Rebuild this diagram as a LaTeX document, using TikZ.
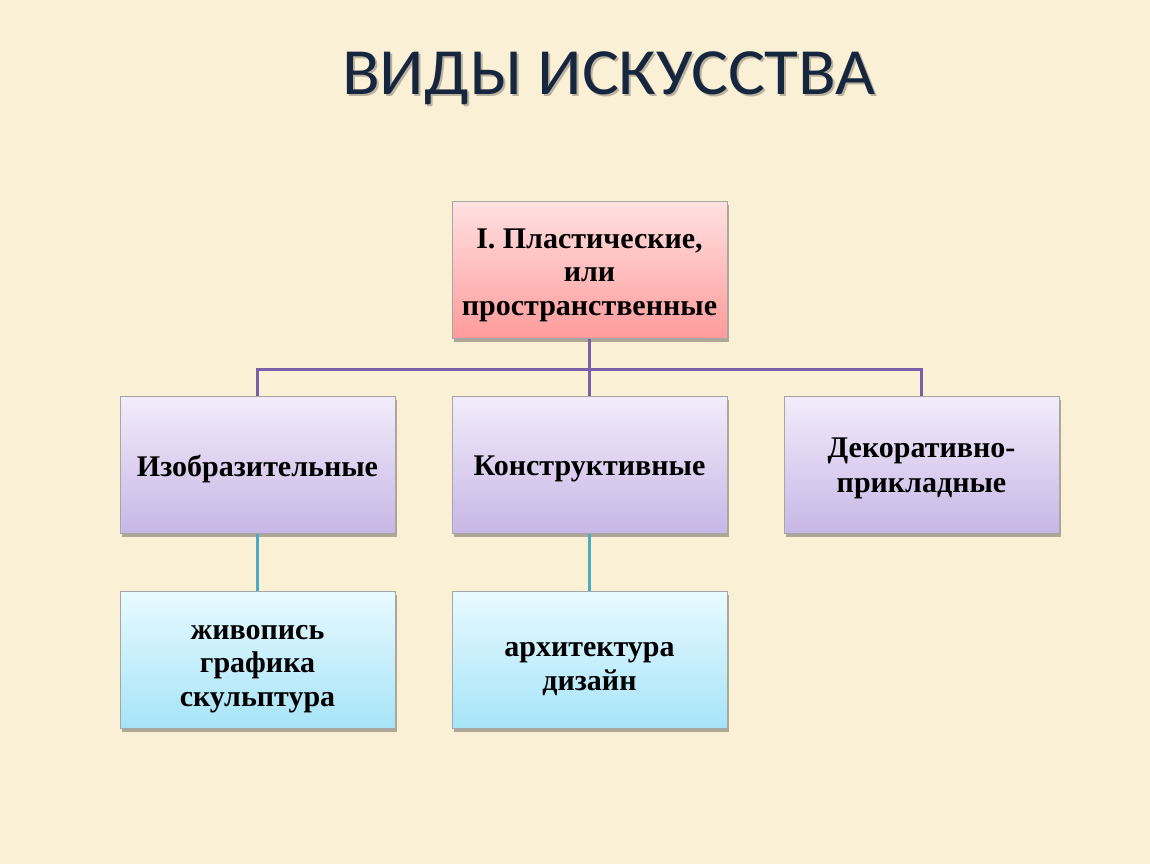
\documentclass[tikz,border=0pt]{standalone}
\usepackage{fontspec}
\setmainfont{Liberation Serif}
\newfontfamily\titlefont{Carlito}
\usetikzlibrary{shadows}
\definecolor{bgcol}{HTML}{FAF0D6}
\definecolor{titlecol}{HTML}{17263F}
\definecolor{plinecol}{HTML}{7B5FA8}
\definecolor{tlinecol}{HTML}{4BACC6}
\tikzset{
  box/.style={draw=black!35, line width=0.6pt, minimum width=275pt, minimum height=137pt,
    inner sep=0pt, shading=axis, shading angle=0,
    drop shadow={shadow xshift=2pt, shadow yshift=-3pt, opacity=0.3, fill=black}},
  boxtext/.style={align=center, inner sep=0pt, font=\bfseries\fontsize{30}{33.5}\selectfont},
  redbox/.style={box, top color=red!12!white, bottom color={rgb,255:red,255;green,155;blue,155}},
  purbox/.style={box, top color={rgb,255:red,242;green,236;blue,250}, bottom color={rgb,255:red,200;green,182;blue,230}},
  bluebox/.style={box, top color={rgb,255:red,232;green,250;blue,255}, bottom color={rgb,255:red,166;green,228;blue,248}},
  pline/.style={draw=plinecol, line width=3pt},
  tline/.style={draw=tlinecol, line width=3pt},
  titletext/.style={font=\titlefont\fontsize{66}{70}\selectfont, anchor=base, inner sep=0pt}
}
\begin{document}
\begin{tikzpicture}[x=1pt,y=-1pt]
\fill[bgcol] (0,0) rectangle (1150,864);
\useasboundingbox (0,0) rectangle (1150,864);
% title
\node[titletext, text=black, opacity=0.25] (tshadow) at (611,97) {\scalebox{1.05}[1]{ВИДЫ ИСКУССТВА}};
\node[titletext, text=titlecol] (title) at (609,95) {\scalebox{1.05}[1]{ВИДЫ ИСКУССТВА}};
% boxes
\node[redbox] (top) at (589.5,270) {};
\node[purbox] (m1) at (257.5,465) {};
\node[purbox] (m2) at (589.5,465) {};
\node[purbox] (m3) at (921.5,465) {};
\node[bluebox] (b1) at (257.5,660) {};
\node[bluebox] (b2) at (589.5,660) {};
% texts
\node[boxtext] (ttop) at ([yshift=-5pt]top.center) {I. Пластические,\\или\\пространственные};
\node[boxtext] (tm1) at ([yshift=-4pt]m1.center) {Изобразительные};
\node[boxtext] (tm2) at ([yshift=-4pt]m2.center) {Конструктивные};
\node[boxtext, font=\bfseries\fontsize{30}{35}\selectfont] (tm3) at ([yshift=-3pt]m3.center) {Декоративно-\\прикладные};
\node[boxtext] (tb1) at ([yshift=-9pt]b1.center) {живопись\\графика\\скульптура};
\node[boxtext] (tb2) at ([yshift=-9pt]b2.center) {архитектура\\дизайн};
% connectors
\coordinate (j) at (589.5,369);
\draw[pline] (top.south) -- (j);
\draw[pline] (j) -| (m1.north);
\draw[pline] (j) -| (m3.north);
\draw[pline] (j) -- (m2.north);
\draw[tline] (m1.south) -- (b1.north);
\draw[tline] (m2.south) -- (b2.north);
\end{tikzpicture}
\end{document}
